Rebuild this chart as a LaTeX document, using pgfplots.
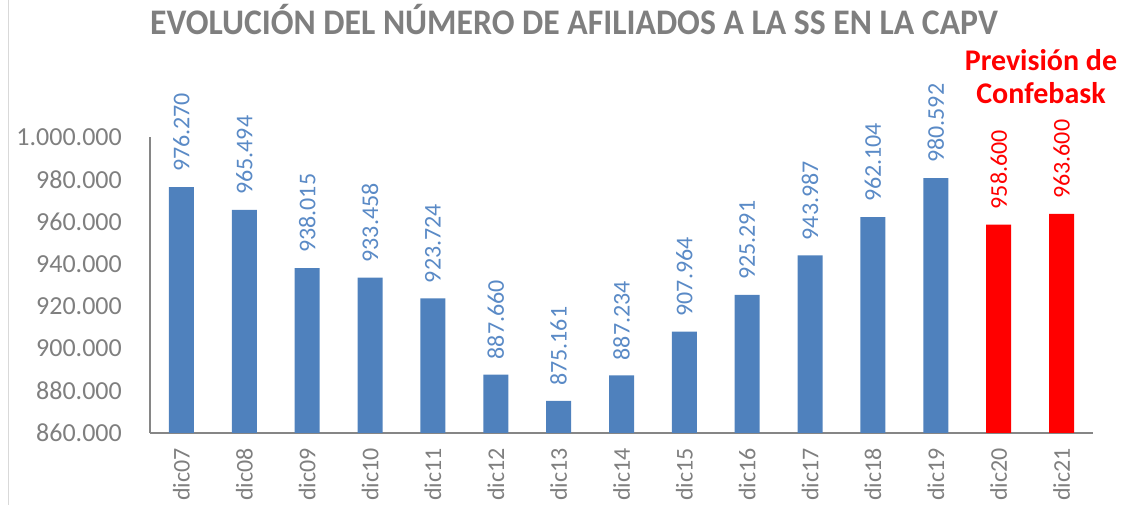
\documentclass[border=0pt]{standalone}
\usepackage{pgfplots}
\pgfplotsset{compat=1.18}
\usepackage{fontspec}
\setmainfont{Carlito}
\definecolor{barblue}{HTML}{4F81BD}
\definecolor{lblblue}{HTML}{5A8AC6}
\definecolor{txtgray}{HTML}{7F7F7F}
\definecolor{axgray}{HTML}{868686}
\begin{document}
\begin{tikzpicture}[x=1pt,y=1pt]
\path[use as bounding box] (0,0) rectangle (1125,505);
\draw[gray!30, line width=1pt] (8,0) -- (8,505);
\begin{axis}[
  at={(150pt,72pt)}, anchor=south west,
  scale only axis, width=943pt, height=296pt,
  ybar, bar width=25pt, bar shift=0pt,
  xmin=-0.5, xmax=14.5,
  ymin=860000, ymax=1000000,
  axis x line*=bottom, axis y line*=left,
  axis line style={axgray, line width=1.2pt},
  xtick={0,...,14},
  xticklabels={dic07,dic08,dic09,dic10,dic11,dic12,dic13,dic14,dic15,dic16,dic17,dic18,dic19,dic20,dic21},
  ytick={860000,880000,...,1000000},
  scaled y ticks=false,
  major tick length=0pt,
  yticklabel style={/pgf/number format/assume math mode=true, /pgf/number format/.cd, 1000 sep={.}, fixed, /tikz/.cd, font=\fontsize{26}{30}\selectfont, text=txtgray, inner sep=0pt, xshift=-28pt},
  xticklabel style={font=\fontsize{24}{28}\selectfont, text=txtgray, rotate=90, anchor=east, inner sep=0pt, xshift=-15pt},
  nodes near coords={\pgfplotspointmeta},
  point meta=explicit symbolic,
  every node near coord/.append style={rotate=90, anchor=west, inner sep=0pt, font=\fontsize{24}{28}\selectfont},
  clip=true,
]
\addplot[fill=barblue, draw=none, every node near coord/.append style={text=lblblue}, nodes near coords style={xshift=15pt}] table[meta=lab] {
x y lab
0 976270 976.270
1 965494 965.494
2 938015 938.015
3 933458 933.458
4 923724 923.724
5 887660 887.660
6 875161 875.161
7 887234 887.234
8 907964 907.964
9 925291 925.291
10 943987 943.987
11 962104 962.104
12 980592 980.592
};
\addplot[fill=red, draw=none, every node near coord/.append style={text=red}, nodes near coords style={xshift=15pt}] table[meta=lab] {
x y lab
13 958600 958.600
14 963600 963.600
};
\end{axis}
\node[font=\fontsize{36}{40}\selectfont\bfseries, text=txtgray, xscale=0.936] at (574,485) {EVOLUCIÓN DEL NÚMERO DE AFILIADOS A LA SS EN LA CAPV};
\node[font=\fontsize{30}{33}\selectfont\bfseries, text=red, align=center] at (1041,428) {Previsión de\\Confebask};
\end{tikzpicture}
\end{document}
